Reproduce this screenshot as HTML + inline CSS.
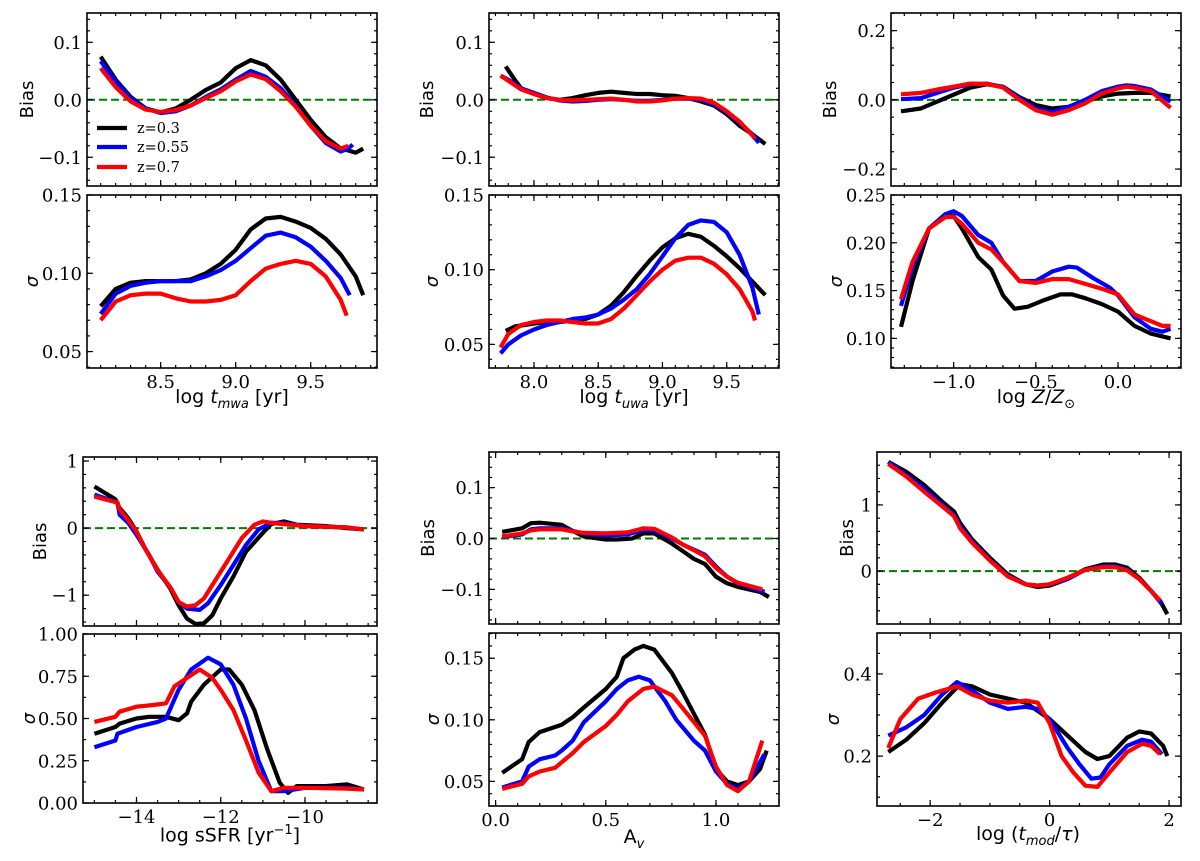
<!DOCTYPE html>
<html><head><meta charset="utf-8">
<style>
html,body{margin:0;padding:0;background:#fff;}
svg{display:block;}
</style></head>
<body>
<svg id="fig" width="1200" height="861" viewBox="0 0 1200 861" xmlns="http://www.w3.org/2000/svg"></svg>
<script>
// ---- Data (x arrays and y arrays per series) ----
const aBX_k=[8.1,8.2,8.3,8.4,8.5,8.6,8.7,8.8,8.9,9.0,9.1,9.2,9.3,9.4,9.5,9.6,9.7,9.75,9.8,9.85];
const aBY_k=[0.075,0.035,0.005,-0.015,-0.022,-0.015,0.0,0.017,0.03,0.055,0.069,0.06,0.035,0.0,-0.035,-0.065,-0.085,-0.088,-0.092,-0.085];
const aBX_b=[8.1,8.2,8.3,8.4,8.5,8.6,8.7,8.8,8.9,9.0,9.1,9.2,9.3,9.4,9.5,9.6,9.7,9.75,9.78];
const aBY_b=[0.067,0.032,0.003,-0.015,-0.023,-0.02,-0.01,0.005,0.018,0.035,0.05,0.04,0.02,-0.01,-0.045,-0.075,-0.09,-0.085,-0.078];
const aBX_r=[8.1,8.2,8.3,8.4,8.5,8.6,8.7,8.8,8.9,9.0,9.1,9.2,9.3,9.4,9.5,9.6,9.7,9.75];
const aBY_r=[0.055,0.022,-0.003,-0.017,-0.021,-0.018,-0.01,0.003,0.015,0.032,0.044,0.036,0.015,-0.012,-0.045,-0.072,-0.085,-0.08];
const aSX_k=[8.1,8.2,8.3,8.4,8.5,8.6,8.7,8.8,8.9,9.0,9.1,9.2,9.3,9.4,9.5,9.6,9.7,9.8,9.85];
const aSY_k=[0.079,0.09,0.094,0.095,0.095,0.095,0.096,0.1,0.106,0.115,0.128,0.135,0.136,0.133,0.129,0.122,0.112,0.098,0.086];
const aSX_b=[8.1,8.2,8.3,8.4,8.5,8.6,8.7,8.8,8.9,9.0,9.1,9.2,9.3,9.4,9.5,9.6,9.7,9.76];
const aSY_b=[0.074,0.087,0.092,0.094,0.095,0.095,0.095,0.098,0.102,0.108,0.116,0.124,0.126,0.123,0.117,0.108,0.097,0.086];
const aSX_r=[8.1,8.2,8.3,8.4,8.5,8.6,8.7,8.8,8.9,9.0,9.1,9.2,9.3,9.4,9.5,9.6,9.7,9.74];
const aSY_r=[0.07,0.082,0.086,0.087,0.087,0.084,0.082,0.082,0.083,0.086,0.095,0.103,0.106,0.108,0.106,0.098,0.083,0.073];

const bBX_k=[7.78,7.85,7.9,8.0,8.1,8.2,8.3,8.4,8.5,8.6,8.7,8.8,8.9,9.0,9.1,9.2,9.3,9.4,9.5,9.6,9.7,9.8];
const bBY_k=[0.058,0.035,0.02,0.01,0.003,0.0,0.003,0.008,0.012,0.014,0.012,0.01,0.01,0.008,0.007,0.003,-0.003,-0.01,-0.025,-0.045,-0.06,-0.077];
const bBX_b=[7.74,7.8,7.9,8.0,8.1,8.2,8.3,8.4,8.5,8.6,8.7,8.8,8.9,9.0,9.1,9.2,9.3,9.4,9.5,9.6,9.7,9.75];
const bBY_b=[0.042,0.035,0.02,0.012,0.004,-0.001,-0.003,-0.002,0.0,0.001,0.0,-0.002,-0.002,0.0,0.002,0.002,0.0,-0.008,-0.022,-0.04,-0.06,-0.075];
const bBX_r=[7.74,7.8,7.9,8.0,8.1,8.2,8.3,8.4,8.5,8.6,8.7,8.8,8.9,9.0,9.1,9.2,9.3,9.4,9.5,9.6,9.7,9.72];
const bBY_r=[0.042,0.033,0.018,0.01,0.003,0.0,-0.001,0.0,0.001,0.002,0.0,-0.003,-0.003,-0.001,0.002,0.003,0.002,-0.005,-0.02,-0.038,-0.062,-0.068];
const bSX_k=[7.78,7.85,8.0,8.1,8.2,8.3,8.4,8.5,8.6,8.7,8.8,8.9,9.0,9.1,9.2,9.3,9.4,9.5,9.6,9.7,9.8];
const bSY_k=[0.059,0.062,0.064,0.065,0.065,0.066,0.067,0.07,0.076,0.085,0.096,0.106,0.115,0.121,0.124,0.122,0.116,0.109,0.101,0.092,0.083];
const bSX_b=[7.74,7.8,7.9,8.0,8.1,8.2,8.3,8.4,8.5,8.6,8.7,8.8,8.9,9.0,9.1,9.2,9.3,9.4,9.5,9.6,9.7,9.75];
const bSY_b=[0.044,0.05,0.056,0.06,0.063,0.065,0.067,0.068,0.07,0.074,0.08,0.087,0.097,0.109,0.121,0.13,0.133,0.132,0.125,0.11,0.088,0.07];
const bSX_r=[7.74,7.8,7.9,8.0,8.1,8.2,8.3,8.4,8.5,8.6,8.7,8.8,8.9,9.0,9.1,9.2,9.3,9.4,9.5,9.6,9.7,9.72];
const bSY_r=[0.048,0.057,0.063,0.065,0.066,0.066,0.065,0.064,0.064,0.067,0.074,0.083,0.092,0.1,0.106,0.108,0.108,0.104,0.097,0.087,0.072,0.066];

const cBX_k=[-1.32,-1.2,-1.1,-1.0,-0.9,-0.8,-0.7,-0.6,-0.5,-0.4,-0.3,-0.2,-0.1,0.0,0.1,0.2,0.32];
const cBY_k=[-0.033,-0.025,-0.005,0.015,0.035,0.045,0.038,0.008,-0.015,-0.025,-0.02,-0.005,0.01,0.018,0.02,0.02,0.01];
const cBX_b=[-1.32,-1.2,-1.1,-1.0,-0.9,-0.8,-0.7,-0.6,-0.5,-0.4,-0.3,-0.2,-0.1,0.0,0.05,0.1,0.2,0.32];
const cBY_b=[0.002,0.005,0.02,0.035,0.045,0.047,0.037,0.005,-0.025,-0.035,-0.02,0.0,0.025,0.038,0.042,0.04,0.03,-0.005];
const cBX_r=[-1.32,-1.2,-1.1,-1.0,-0.9,-0.8,-0.7,-0.6,-0.5,-0.4,-0.3,-0.2,-0.1,0.0,0.05,0.1,0.2,0.32];
const cBY_r=[0.016,0.02,0.03,0.038,0.047,0.046,0.036,0.0,-0.03,-0.043,-0.03,-0.01,0.018,0.033,0.038,0.035,0.025,-0.023];
const cSX_k=[-1.32,-1.25,-1.15,-1.05,-1.0,-0.95,-0.85,-0.77,-0.7,-0.63,-0.55,-0.45,-0.35,-0.28,-0.2,-0.1,0.0,0.1,0.2,0.32];
const cSY_k=[0.112,0.16,0.215,0.228,0.228,0.215,0.185,0.172,0.145,0.131,0.133,0.14,0.146,0.146,0.142,0.136,0.128,0.113,0.105,0.1];
const cSX_b=[-1.32,-1.25,-1.15,-1.05,-1.0,-0.95,-0.85,-0.77,-0.7,-0.6,-0.5,-0.4,-0.3,-0.25,-0.15,-0.05,0.0,0.1,0.2,0.27,0.32];
const cSY_b=[0.134,0.175,0.215,0.23,0.233,0.228,0.208,0.2,0.18,0.16,0.16,0.17,0.175,0.174,0.163,0.153,0.145,0.122,0.11,0.107,0.11];
const cSX_r=[-1.32,-1.25,-1.15,-1.05,-1.0,-0.95,-0.85,-0.77,-0.7,-0.6,-0.5,-0.4,-0.3,-0.2,-0.1,0.0,0.1,0.2,0.27,0.32];
const cSY_r=[0.141,0.18,0.215,0.227,0.227,0.22,0.2,0.193,0.18,0.16,0.158,0.162,0.162,0.157,0.152,0.146,0.125,0.118,0.113,0.113];

const dBX_k=[-15.0,-14.5,-14.4,-14.2,-14.0,-13.8,-13.5,-13.2,-13.0,-12.8,-12.6,-12.4,-12.2,-12.0,-11.7,-11.4,-11.0,-10.8,-10.5,-10.2,-9.5,-9.0,-8.6];
const dBY_k=[0.62,0.43,0.3,0.15,-0.05,-0.3,-0.62,-0.9,-1.15,-1.35,-1.43,-1.42,-1.3,-1.05,-0.72,-0.35,-0.07,0.06,0.1,0.05,0.03,0.0,-0.02];
const dBX_b=[-15.0,-14.45,-14.4,-14.2,-14.0,-13.7,-13.5,-13.2,-13.0,-12.8,-12.5,-12.3,-12.0,-11.7,-11.4,-11.1,-10.8,-10.5,-10.0,-9.0,-8.6];
const dBY_b=[0.5,0.38,0.2,0.08,-0.1,-0.4,-0.65,-0.88,-1.1,-1.2,-1.22,-1.12,-0.85,-0.55,-0.25,-0.02,0.08,0.07,0.03,0.01,-0.02];
const dBX_r=[-15.0,-14.45,-14.4,-14.2,-14.0,-13.8,-13.5,-13.2,-13.0,-12.8,-12.6,-12.4,-12.1,-11.8,-11.5,-11.2,-11.0,-10.7,-10.0,-9.0,-8.6];
const dBY_r=[0.47,0.38,0.28,0.12,-0.05,-0.3,-0.63,-0.88,-1.1,-1.17,-1.15,-1.05,-0.75,-0.45,-0.15,0.05,0.1,0.07,0.03,0.01,-0.02];
const dSX_k=[-15.0,-14.5,-14.4,-14.0,-13.7,-13.3,-13.0,-12.8,-12.7,-12.4,-12.0,-11.8,-11.5,-11.2,-10.9,-10.6,-10.4,-10.2,-9.5,-9.0,-8.6];
const dSY_k=[0.41,0.45,0.47,0.5,0.51,0.51,0.49,0.53,0.6,0.7,0.79,0.79,0.7,0.55,0.32,0.12,0.06,0.1,0.1,0.11,0.08];
const dSX_b=[-15.0,-14.5,-14.45,-14.0,-13.5,-13.3,-13.0,-12.7,-12.3,-12.0,-11.7,-11.4,-11.1,-10.8,-10.5,-10.0,-9.0,-8.6];
const dSY_b=[0.33,0.37,0.41,0.45,0.48,0.5,0.67,0.79,0.86,0.82,0.7,0.5,0.25,0.07,0.07,0.09,0.09,0.08];
const dSX_r=[-15.0,-14.5,-14.4,-14.0,-13.6,-13.3,-13.1,-12.8,-12.5,-12.2,-12.0,-11.7,-11.4,-11.1,-10.8,-10.5,-10.0,-9.0,-8.6];
const dSY_r=[0.48,0.51,0.54,0.57,0.58,0.59,0.69,0.74,0.79,0.74,0.67,0.55,0.37,0.18,0.07,0.09,0.09,0.085,0.08];

const eBX_k=[0.03,0.12,0.16,0.2,0.3,0.35,0.4,0.5,0.55,0.62,0.67,0.72,0.8,0.85,0.9,0.95,1.0,1.05,1.1,1.2,1.24];
const eBY_k=[0.013,0.02,0.03,0.031,0.027,0.015,0.004,-0.002,-0.002,0.0,0.01,0.01,-0.01,-0.025,-0.04,-0.05,-0.075,-0.088,-0.095,-0.105,-0.115];
const eBX_b=[0.03,0.12,0.16,0.2,0.3,0.35,0.4,0.5,0.6,0.67,0.72,0.8,0.85,0.9,0.95,1.0,1.05,1.1,1.22];
const eBY_b=[0.003,0.008,0.018,0.02,0.02,0.015,0.01,0.006,0.008,0.017,0.016,0.0,-0.012,-0.022,-0.032,-0.055,-0.075,-0.088,-0.105];
const eBX_r=[0.03,0.12,0.16,0.2,0.3,0.35,0.4,0.5,0.6,0.67,0.72,0.8,0.85,0.9,0.95,1.0,1.05,1.1,1.21];
const eBY_r=[0.004,0.01,0.016,0.018,0.018,0.014,0.011,0.01,0.012,0.02,0.019,0.002,-0.012,-0.023,-0.035,-0.058,-0.075,-0.087,-0.1];
const eSX_k=[0.03,0.12,0.15,0.2,0.3,0.35,0.4,0.5,0.55,0.58,0.63,0.67,0.72,0.8,0.85,0.9,0.95,1.0,1.05,1.1,1.15,1.2,1.23];
const eSY_k=[0.057,0.068,0.082,0.09,0.096,0.102,0.11,0.125,0.135,0.15,0.157,0.16,0.157,0.138,0.122,0.105,0.088,0.06,0.05,0.047,0.05,0.06,0.075];
const eSX_b=[0.03,0.12,0.15,0.2,0.27,0.3,0.35,0.4,0.5,0.55,0.6,0.65,0.7,0.77,0.82,0.9,0.95,1.0,1.05,1.1,1.15,1.22];
const eSY_b=[0.045,0.05,0.062,0.068,0.071,0.075,0.083,0.098,0.115,0.125,0.132,0.135,0.132,0.115,0.1,0.083,0.075,0.058,0.048,0.044,0.05,0.072];
const eSX_r=[0.03,0.12,0.15,0.2,0.27,0.35,0.4,0.5,0.55,0.6,0.67,0.72,0.8,0.86,0.95,1.0,1.05,1.1,1.15,1.21];
const eSY_r=[0.044,0.048,0.054,0.058,0.061,0.073,0.082,0.095,0.104,0.115,0.125,0.127,0.12,0.107,0.087,0.062,0.047,0.042,0.05,0.083];

const fBX_k=[-2.7,-2.4,-2.1,-1.8,-1.6,-1.5,-1.3,-1.0,-0.7,-0.4,-0.2,0.0,0.3,0.6,0.9,1.1,1.3,1.5,1.7,1.85,1.97];
const fBY_k=[1.65,1.5,1.3,1.05,0.9,0.73,0.48,0.2,-0.05,-0.2,-0.24,-0.22,-0.12,0.03,0.1,0.1,0.05,-0.1,-0.3,-0.45,-0.65];
const fBX_b=[-2.7,-2.4,-2.1,-1.8,-1.6,-1.5,-1.3,-1.0,-0.7,-0.4,-0.2,0.0,0.3,0.6,0.9,1.1,1.3,1.5,1.7,1.88];
const fBY_b=[1.65,1.45,1.25,1.0,0.85,0.68,0.45,0.17,-0.07,-0.2,-0.22,-0.2,-0.12,0.02,0.07,0.07,0.02,-0.12,-0.3,-0.5];
const fBX_r=[-2.7,-2.4,-2.1,-1.8,-1.6,-1.5,-1.3,-1.0,-0.7,-0.4,-0.2,0.0,0.3,0.6,0.9,1.1,1.3,1.5,1.7,1.85];
const fBY_r=[1.62,1.43,1.2,0.98,0.83,0.65,0.43,0.16,-0.08,-0.2,-0.22,-0.2,-0.1,0.02,0.06,0.06,0.01,-0.12,-0.3,-0.45];
const fSX_k=[-2.7,-2.4,-2.1,-1.8,-1.6,-1.5,-1.3,-1.0,-0.7,-0.4,-0.2,0.0,0.3,0.6,0.8,1.0,1.3,1.5,1.7,1.9,1.97];
const fSY_k=[0.21,0.24,0.28,0.33,0.36,0.375,0.37,0.35,0.34,0.33,0.31,0.29,0.25,0.21,0.193,0.2,0.245,0.26,0.255,0.225,0.2];
const fSX_b=[-2.7,-2.4,-2.1,-1.8,-1.55,-1.3,-1.0,-0.7,-0.4,-0.2,0.0,0.3,0.5,0.7,0.85,1.0,1.3,1.55,1.7,1.88];
const fSY_b=[0.25,0.27,0.3,0.35,0.38,0.36,0.33,0.315,0.32,0.315,0.29,0.22,0.18,0.145,0.148,0.18,0.225,0.24,0.235,0.205];
const fSX_r=[-2.7,-2.5,-2.2,-1.9,-1.55,-1.3,-1.0,-0.7,-0.4,-0.2,0.0,0.2,0.4,0.6,0.8,1.0,1.3,1.55,1.7,1.85];
const fSY_r=[0.22,0.29,0.34,0.355,0.37,0.35,0.335,0.33,0.335,0.33,0.28,0.2,0.16,0.128,0.125,0.16,0.21,0.23,0.225,0.205];

// Tick values and labels
const aXT=[8.5,9.0,9.5], aXL=["8.5","9.0","9.5"];
const bXT=[8.0,8.5,9.0,9.5], bXL=["8.0","8.5","9.0","9.5"];
const cXT=[-1.0,-0.5,0.0], cXL=["−1.0","−0.5","0.0"];
const dXT=[-14,-12,-10], dXL=["−14","−12","−10"];
const eXT=[0.0,0.5,1.0], eXL=["0.0","0.5","1.0"];
const fXT=[-2,0,2], fXL=["−2","0","2"];
const biasT1=[-0.1,0.0,0.1], biasL1=["−0.1","0.0","0.1"];
const biasT3=[-0.2,0.0,0.2], biasL3=["−0.2","0.0","0.2"];
const biasT4=[-1,0,1], biasL4=["−1","0","1"];
const biasT6=[0,1], biasL6=["0","1"];
const sigT1=[0.05,0.10,0.15], sigL1=["0.05","0.10","0.15"];
const sigT3=[0.10,0.15,0.20,0.25], sigL3=["0.10","0.15","0.20","0.25"];
const sigT4=[0,0.25,0.5,0.75,1.0], sigL4=["0.00","0.25","0.50","0.75","1.00"];
const sigT6=[0.2,0.4], sigL6=["0.2","0.4"];

const NS="http://www.w3.org/2000/svg";
const svg=document.getElementById('fig');
const SERIF='"DejaVu Serif","Liberation Serif",serif';
const SANS='"DejaVu Sans","Liberation Sans",sans-serif';
function mk(tag,attrs,parent){const e=document.createElementNS(NS,tag);for(const k in attrs)e.setAttribute(k,attrs[k]);(parent||svg).appendChild(e);return e;}
const COL={k:"#000000",b:"#0000ff",r:"#ff0000"};

function panel(name,P,series,xt,xl,yt,yl,xmin_step,ymin_step,showX,zero,ylab,ylx){
  const g=mk('g',{});
  
  
  const sx=v=>P.l+(v-P.x0)/(P.x1-P.x0)*(P.r-P.l);
  const sy=v=>P.b-(v-P.y0)/(P.y1-P.y0)*(P.b-P.t);
  const clip=mk('clipPath',{id:'c'+name},g);
  mk('rect',{x:P.l,y:P.t,width:P.r-P.l,height:P.b-P.t},clip);
  if(zero){
    const z=mk('line',{x1:P.l,x2:P.r,y1:sy(0),y2:sy(0),stroke:"#007a00","stroke-width":2,"stroke-dasharray":"8,4"},g);
    
    
  }
  const lg=mk('g',{'clip-path':'url(#c'+name+')'},g);
  series.forEach(s=>{
    const pts=s.x.map((v,i)=>sx(v).toFixed(1)+","+sy(s.y[i]).toFixed(1)).join(" ");
    const pl=mk('polyline',{points:pts,fill:"none",stroke:COL[s.c],"stroke-width":4.2,"stroke-linejoin":"round","stroke-linecap":"butt"},lg);
    
    
  });
  const tk=mk('g',{stroke:"#000","stroke-width":1.2},g);
  for(let v=Math.ceil(P.x0/xmin_step-1e-6)*xmin_step; v<=P.x1+1e-9; v+=xmin_step){
    const X=sx(v);
    mk('line',{x1:X,x2:X,y1:P.b,y2:P.b-3},tk);mk('line',{x1:X,x2:X,y1:P.t,y2:P.t+3},tk);
  }
  for(let v=Math.ceil(P.y0/ymin_step-1e-6)*ymin_step; v<=P.y1+1e-9; v+=ymin_step){
    const Y=sy(v);
    mk('line',{x1:P.l,x2:P.l+3,y1:Y,y2:Y},tk);mk('line',{x1:P.r,x2:P.r-3,y1:Y,y2:Y},tk);
  }
  xt.forEach((v,i)=>{
    const X=sx(v);
    mk('line',{x1:X,x2:X,y1:P.b,y2:P.b-6},tk);mk('line',{x1:X,x2:X,y1:P.t,y2:P.t+6},tk);
    if(showX){const t=mk('text',{x:X,y:P.b+20,'text-anchor':'middle','font-family':SERIF,'font-size':18,fill:'#000'},g);t.textContent=xl[i];
      
      }
  });
  yt.forEach((v,i)=>{
    const Y=sy(v);
    mk('line',{x1:P.l,x2:P.l+6,y1:Y,y2:Y},tk);mk('line',{x1:P.r,x2:P.r-6,y1:Y,y2:Y},tk);
    const t=mk('text',{x:P.l-5,y:Y+6.5,'text-anchor':'end','font-family':SERIF,'font-size':18,fill:'#000'},g);t.textContent=yl[i];
    
    
  });
  mk('rect',{x:P.l,y:P.t,width:P.r-P.l,height:P.b-P.t,fill:"none",stroke:"#000","stroke-width":1.6},g);
  const yc=(P.t+P.b)/2;
  const t=mk('text',{x:ylx,y:yc+6,'text-anchor':'middle','font-family':SANS,'font-size':18,fill:'#000',transform:`rotate(-90 ${ylx} ${yc})`},g);
  if(ylab==='s'){t.textContent='σ';t.setAttribute('font-style','italic');}else t.textContent='Bias';
  
  
}
function S(x,y,c,n){return {x:x,y:y,c:c,n:n};}

panel('panel-mwa-bias',{l:87,r:377,t:13,b:186,x0:8.009,x1:9.942,y0:-0.15,y1:0.151},
 [S(aBX_k,aBY_k,'k','z03'),S(aBX_b,aBY_b,'b','z055'),S(aBX_r,aBY_r,'r','z07')],aXT,aXL,biasT1,biasL1,0.1,0.02,false,true,'b',27);
panel('panel-mwa-sigma',{l:87,r:377,t:195,b:368,x0:8.009,x1:9.942,y0:0.0395,y1:0.15},
 [S(aSX_k,aSY_k,'k','z03'),S(aSX_b,aSY_b,'b','z055'),S(aSX_r,aSY_r,'r','z07')],aXT,aXL,sigT1,sigL1,0.1,0.01,true,false,'s',32);
panel('panel-uwa-bias',{l:489,r:779,t:13,b:186,x0:7.65,x1:9.907,y0:-0.15,y1:0.151},
 [S(bBX_k,bBY_k,'k','z03'),S(bBX_b,bBY_b,'b','z055'),S(bBX_r,bBY_r,'r','z07')],bXT,bXL,biasT1,biasL1,0.1,0.02,false,true,'b',427);
panel('panel-uwa-sigma',{l:489,r:779,t:195,b:368,x0:7.65,x1:9.907,y0:0.0342,y1:0.15},
 [S(bSX_k,bSY_k,'k','z03'),S(bSX_b,bSY_b,'b','z055'),S(bSX_r,bSY_r,'r','z07')],bXT,bXL,sigT1,sigL1,0.1,0.01,true,false,'s',432);
panel('panel-z-bias',{l:891,r:1181,t:13,b:186,x0:-1.381,x1:0.383,y0:-0.249,y1:0.251},
 [S(cBX_k,cBY_k,'k','z03'),S(cBX_b,cBY_b,'b','z055'),S(cBX_r,cBY_r,'r','z07')],cXT,cXL,biasT3,biasL3,0.1,0.05,false,true,'b',830);
panel('panel-z-sigma',{l:891,r:1181,t:195,b:368,x0:-1.381,x1:0.383,y0:0.069,y1:0.25},
 [S(cSX_k,cSY_k,'k','z03'),S(cSX_b,cSY_b,'b','z055'),S(cSX_r,cSY_r,'r','z07')],cXT,cXL,sigT3,sigL3,0.1,0.01,true,false,'s',836);
panel('panel-ssfr-bias',{l:83,r:377,t:457,b:626,x0:-15.27,x1:-8.29,y0:-1.46,y1:1.06},
 [S(dBX_k,dBY_k,'k','z03'),S(dBX_b,dBY_b,'b','z055'),S(dBX_r,dBY_r,'r','z07')],dXT,dXL,biasT4,biasL4,0.5,0.2,false,true,'b',40);
panel('panel-ssfr-sigma',{l:83,r:377,t:634,b:803,x0:-15.27,x1:-8.29,y0:0,y1:1.0},
 [S(dSX_k,dSY_k,'k','z03'),S(dSX_b,dSY_b,'b','z055'),S(dSX_r,dSY_r,'r','z07')],dXT,dXL,sigT4,sigL4,0.5,0.125,true,false,'s',29);
panel('panel-av-bias',{l:489,r:779,t:452,b:624,x0:-0.03,x1:1.286,y0:-0.168,y1:0.17},
 [S(eBX_k,eBY_k,'k','z03'),S(eBX_b,eBY_b,'b','z055'),S(eBX_r,eBY_r,'r','z07')],eXT,eXL,biasT1,biasL1,0.1,0.02,false,true,'b',428);
panel('panel-av-sigma',{l:489,r:779,t:633,b:806,x0:-0.03,x1:1.286,y0:0.030,y1:0.1705},
 [S(eSX_k,eSY_k,'k','z03'),S(eSX_b,eSY_b,'b','z055'),S(eSX_r,eSY_r,'r','z07')],eXT,eXL,sigT1,sigL1,0.1,0.01,true,false,'s',433);
panel('panel-tmod-bias',{l:877,r:1181,t:452,b:624,x0:-2.89,x1:2.2,y0:-0.80,y1:1.80},
 [S(fBX_k,fBY_k,'k','z03'),S(fBX_b,fBY_b,'b','z055'),S(fBX_r,fBY_r,'r','z07')],fXT,fXL,biasT6,biasL6,0.5,0.2,false,true,'b',847);
panel('panel-tmod-sigma',{l:877,r:1181,t:633,b:806,x0:-2.89,x1:2.2,y0:0.0786,y1:0.4996},
 [S(fSX_k,fSY_k,'k','z03'),S(fSX_b,fSY_b,'b','z055'),S(fSX_r,fSY_r,'r','z07')],fXT,fXL,sigT6,sigL6,0.5,0.05,true,false,'s',833);

const leg=mk('g',{});


[["z=0.3","#000",128],["z=0.55","#0000ff",147],["z=0.7","#ff0000",167]].forEach(e=>{
  const l=mk('line',{x1:97,x2:127,y1:e[2],y2:e[2],stroke:e[1],"stroke-width":4.2},leg);
  
  
  const t=mk('text',{x:137,y:e[2]+5,'font-family':SERIF,'font-size':14.5,fill:'#000'},leg);t.textContent=e[0];
  
  
});
</script>
<div style="position:absolute;left:0;top:0;width:1200px;height:861px;pointer-events:none;font-family:'DejaVu Sans','Liberation Sans',sans-serif;font-size:19px;">
  <div style="position:absolute;left:112px;width:240px;top:386px;text-align:center;">log <i>t<sub style="font-size:13px">mwa</sub></i> [yr]</div>
  <div style="position:absolute;left:514px;width:240px;top:386px;text-align:center;">log <i>t<sub style="font-size:13px">uwa</sub></i> [yr]</div>
  <div style="position:absolute;left:916px;width:240px;top:386px;text-align:center;">log <i>Z</i>/<i>Z</i><sub style="font-size:13px">⊙</sub></div>
  <div style="position:absolute;left:110px;width:240px;top:823px;text-align:center;">log sSFR [yr<sup style="font-size:13px">−1</sup>]</div>
  <div style="position:absolute;left:514px;width:240px;top:826px;text-align:center;">A<sub style="font-size:13px"><i>v</i></sub></div>
  <div style="position:absolute;left:908px;width:240px;top:823px;text-align:center;">log (<i>t<sub style="font-size:13px">mod</sub></i>/<i>τ</i>)</div>
</div>
</body></html>
